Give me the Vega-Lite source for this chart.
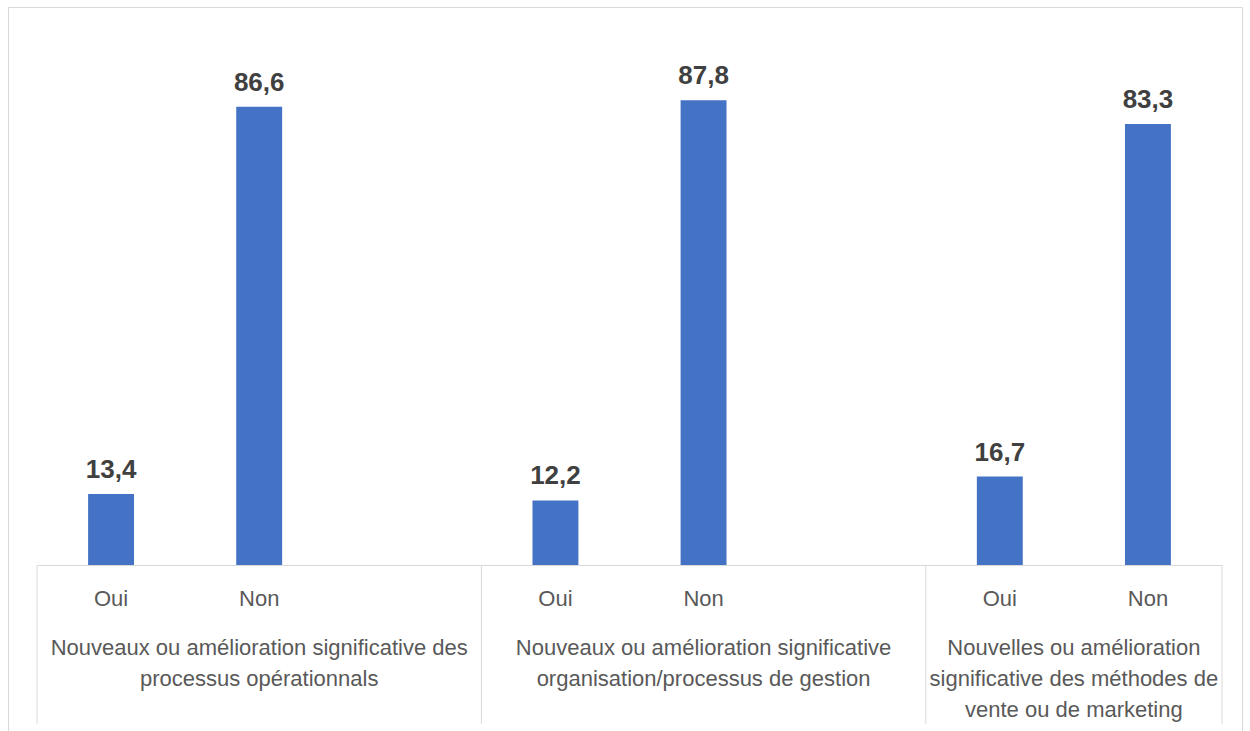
{
  "$schema": "https://vega.github.io/schema/vega-lite/v6.json",
  "width": 1234,
  "height": 724,
  "autosize": {"type": "none"},
  "padding": {"left": 8, "top": 7, "right": 8, "bottom": 0},
  "background": "#FFFFFF",
  "config": {
    "view": {"stroke": "#D9D9D9", "strokeWidth": 1},
    "font": "Liberation Sans",
    "locale": {"number": {"decimal": ",", "thousands": " ", "grouping": [3], "currency": ["", " €"]}}
  },
  "datasets": {
    "bars": [
      {"groupe": "1", "reponse": "Oui", "slot": "1|Oui", "pct": 13.4},
      {"groupe": "1", "reponse": "Non", "slot": "1|Non", "pct": 86.6},
      {"groupe": "2", "reponse": "Oui", "slot": "2|Oui", "pct": 12.2},
      {"groupe": "2", "reponse": "Non", "slot": "2|Non", "pct": 87.8},
      {"groupe": "3", "reponse": "Oui", "slot": "3|Oui", "pct": 16.7},
      {"groupe": "3", "reponse": "Non", "slot": "3|Non", "pct": 83.3}
    ],
    "groups": [
      {"groupe": "1", "slot": "1|Non", "label": "Nouveaux ou amélioration significative des\nprocessus opérationnals"},
      {"groupe": "2", "slot": "2|Non", "label": "Nouveaux ou amélioration significative\norganisation/processus de gestion"},
      {"groupe": "3", "slot": "3|Non", "label": "Nouvelles ou amélioration\nsignificative des méthodes de\nvente ou de marketing"}
    ],
    "dividers_start": [
      {"slot": "1|Oui"},
      {"slot": "2|Oui"},
      {"slot": "3|Oui"}
    ],
    "dividers_end": [
      {"slot": "3|Non"}
    ]
  },
  "layer": [
    {
      "data": {"name": "bars"},
      "mark": {"type": "bar", "color": "#4472C4", "width": {"band": 0.31}},
      "encoding": {
        "x": {
          "field": "slot", "type": "nominal",
          "scale": {"domain": ["1|Oui", "1|Non", "1|_", "2|Oui", "2|Non", "2|_", "3|Oui", "3|Non"], "range": [29, 1214], "paddingInner": 0, "paddingOuter": 0},
          "axis": {"orient": "bottom", "offset": -166, "domainColor": "#D9D9D9", "domainWidth": 1, "ticks": false, "tickSize": 0, "labels": false, "title": null, "grid": false}
        },
        "y": {
          "field": "pct", "type": "quantitative",
          "scale": {"domain": [0, 100], "range": [558, 28.7], "nice": false},
          "axis": null
        }
      }
    },
    {
      "data": {"name": "bars"},
      "mark": {"type": "text", "fontSize": 26, "fontWeight": "bold", "color": "#404040", "baseline": "alphabetic", "align": "center", "dy": -16},
      "encoding": {
        "x": {"field": "slot", "type": "nominal"},
        "y": {"field": "pct", "type": "quantitative"},
        "text": {"field": "pct", "type": "quantitative", "format": ".1f"}
      }
    },
    {
      "data": {"name": "bars"},
      "mark": {"type": "text", "fontSize": 22, "color": "#595959", "baseline": "alphabetic", "align": "center", "dy": 41},
      "encoding": {
        "x": {"field": "slot", "type": "nominal"},
        "y": {"datum": 0},
        "text": {"field": "reponse", "type": "nominal"}
      }
    },
    {
      "data": {"name": "groups"},
      "transform": [{"filter": "datum.groupe != '3'"}],
      "mark": {"type": "text", "fontSize": 22, "color": "#595959", "baseline": "alphabetic", "align": "center", "dy": 90, "lineHeight": 31, "lineBreak": "\n"},
      "encoding": {
        "x": {"field": "slot", "type": "nominal", "bandPosition": 0.5},
        "y": {"datum": 0},
        "text": {"field": "label", "type": "nominal"}
      }
    },
    {
      "data": {"name": "groups"},
      "transform": [{"filter": "datum.groupe == '3'"}],
      "mark": {"type": "text", "fontSize": 22, "color": "#595959", "baseline": "alphabetic", "align": "center", "dy": 90, "lineHeight": 31, "lineBreak": "\n"},
      "encoding": {
        "x": {"field": "slot", "type": "nominal", "bandPosition": 0},
        "y": {"datum": 0},
        "text": {"field": "label", "type": "nominal"}
      }
    },
    {
      "data": {"name": "dividers_start"},
      "mark": {"type": "rule", "color": "#D9D9D9", "strokeWidth": 1},
      "encoding": {
        "x": {"field": "slot", "type": "nominal", "bandPosition": 0},
        "y": {"datum": 0},
        "y2": {"datum": -30}
      }
    },
    {
      "data": {"name": "dividers_end"},
      "mark": {"type": "rule", "color": "#D9D9D9", "strokeWidth": 1},
      "encoding": {
        "x": {"field": "slot", "type": "nominal", "bandPosition": 1},
        "y": {"datum": 0},
        "y2": {"datum": -30}
      }
    }
  ]
}
